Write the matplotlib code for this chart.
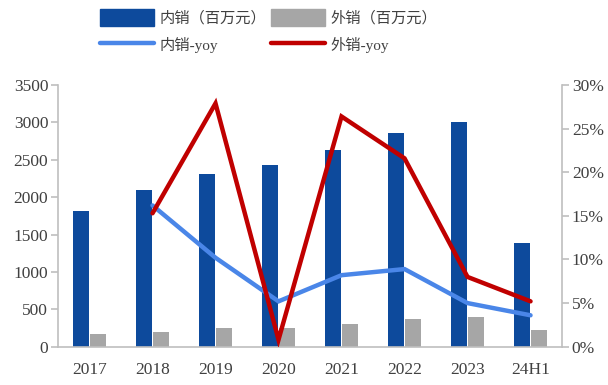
import matplotlib.pyplot as plt
import numpy as np
from matplotlib.patches import Patch
from matplotlib.lines import Line2D
from matplotlib.ticker import FuncFormatter

# Sales by year (millions of yuan) and year-over-year growth
years = ["2017", "2018", "2019", "2020", "2021", "2022", "2023", "24H1"]
domestic = [1810, 2100, 2315, 2430, 2630, 2860, 3000, 1385]
overseas = [166, 193, 246, 246, 303, 366, 393, 227]
domestic_yoy = [None, 16.2, 10.2, 5.2, 8.2, 8.9, 5.0, 3.6]
overseas_yoy = [None, 15.3, 27.9, 0.8, 26.4, 21.6, 8.0, 5.2]

serif = ["Liberation Serif", "Noto Sans CJK SC"]
plt.rcParams["font.family"] = serif

c_dom = "#0D4A9C"
c_ovs = "#A6A6A6"
c_dom_yoy = "#4A86E8"
c_ovs_yoy = "#C00000"
c_axis = "#BFBFBF"
c_text = "#404040"

fig = plt.figure(figsize=(6.08, 3.85), dpi=100)
ax1 = fig.add_axes([0.0954, 0.0995, 0.829, 0.6795])
ax2 = ax1.twinx()

x = np.arange(len(years))
w = 0.255
ax1.bar(x - 0.14, domestic, width=w, color=c_dom, zorder=2)
ax1.bar(x + 0.14, overseas, width=w, color=c_ovs, zorder=2)

# yoy lines start from the second year
xl = x[1:]
ax2.plot(xl, [v / 100 for v in domestic_yoy[1:]], color=c_dom_yoy, lw=3.2,
         solid_capstyle="round", solid_joinstyle="miter", zorder=3)
ax2.plot(xl, [v / 100 for v in overseas_yoy[1:]], color=c_ovs_yoy, lw=3.2,
         solid_capstyle="round", solid_joinstyle="miter", zorder=4)

ax1.set_xlim(-0.5, len(years) - 0.5)
ax1.set_ylim(0, 3500)
ax1.set_yticks(range(0, 3501, 500))
ax2.set_ylim(0, 0.30)
ax2.set_yticks(np.arange(0, 0.301, 0.05))
ax2.yaxis.set_major_formatter(FuncFormatter(lambda v, p: f"{v * 100:.0f}%"))
ax1.set_xticks(x)
ax1.set_xticklabels(years)

for ax in (ax1, ax2):
    ax.spines["top"].set_visible(False)
    for s in ("left", "right", "bottom"):
        ax.spines[s].set_color(c_axis)
        ax.spines[s].set_linewidth(1.2)
    ax.tick_params(axis="y", colors=c_axis, labelcolor=c_text, labelsize=12.5,
                   length=5, width=1.2, direction="out")
ax1.spines["right"].set_visible(False)
ax2.spines["left"].set_visible(False)
ax2.spines["bottom"].set_visible(False)
ax1.tick_params(axis="x", length=0, labelcolor=c_text, labelsize=12.5, pad=11)
ax1.tick_params(axis="y", pad=2)
ax2.tick_params(axis="y", pad=2)

handles = [
    Patch(color=c_dom, label="内销（百万元）"),
    Line2D([], [], color=c_dom_yoy, lw=3.2, solid_capstyle="round", label="内销-yoy"),
    Patch(color=c_ovs, label="外销（百万元）"),
    Line2D([], [], color=c_ovs_yoy, lw=3.2, solid_capstyle="round", label="外销-yoy"),
]
fig.legend(handles=handles, ncol=2, loc="upper left", bbox_to_anchor=(0.15, 1.0),
           frameon=False, prop={"family": serif, "size": 11}, handlelength=3.5,
           handleheight=1.3, handletextpad=0.4, columnspacing=0.3, labelspacing=0.7,
           labelcolor=c_text, borderaxespad=0.2)

fig.savefig("out.png", dpi=100)
